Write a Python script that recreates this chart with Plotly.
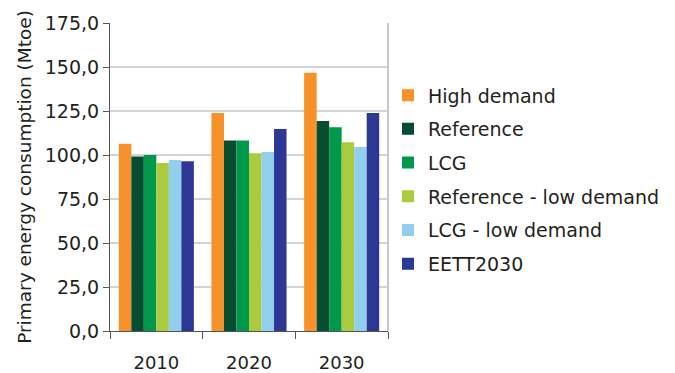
import plotly.graph_objects as go

years = ["2010", "2020", "2030"]
series_names = ["High demand", "Reference", "LCG", "Reference - low demand", "LCG - low demand", "EETT2030"]
high_demand = [106.4, 123.9, 146.8]
reference = [99.2, 108.3, 119.3]
lcg = [100.0, 108.3, 115.7]
reference_low = [95.5, 101.0, 107.2]
lcg_low = [97.2, 101.7, 104.5]
eett2030 = [96.4, 114.8, 123.9]
y_ticks = [0, 25, 50, 75, 100, 125, 150, 175]

colors = ["#F7922A", "#064D32", "#00984A", "#ABCB3E", "#92CFEC", "#2D3795"]
values = [high_demand, reference, lcg, reference_low, lcg_low, eett2030]

FONT = "DejaVu Sans"
TXT = "#231F20"

fig = go.Figure()
for i, (name, vals, col) in enumerate(zip(series_names, values, colors)):
    fig.add_trace(go.Bar(
        x=years, y=vals, name=name, marker=dict(color=col, line=dict(width=0)),
        legendgroup=f"g{i}",
    ))

fig.update_layout(
    width=675, height=373,
    margin=dict(l=110, r=287, t=23, b=42, autoexpand=False),
    paper_bgcolor="white", plot_bgcolor="white",
    barmode="group", bargap=0.19, bargroupgap=0,
    separators=", ",
    font=dict(family=FONT, size=19, color=TXT),
    legend=dict(
        x=1.0, y=0.827, xanchor="left", yanchor="top",
        font=dict(family=FONT, size=19, color=TXT),
        tracegroupgap=6, itemwidth=30,
        bgcolor="rgba(0,0,0,0)",
    ),
    xaxis=dict(
        type="category", tickson="boundaries", ticks="outside", ticklen=7,
        tickcolor="#555555", showline=True, linecolor="#555555", linewidth=1,
        showgrid=False, tickfont=dict(size=18), ticklabelstandoff=15,
        automargin=False,
    ),
    yaxis=dict(
        range=[0, 175], tickvals=y_ticks, tickformat=".1f",
        ticks="outside", ticklen=6, tickcolor="#555555",
        showline=True, linecolor="#555555", linewidth=1,
        showgrid=True, gridcolor="#D4D4D4", gridwidth=2,
        tickfont=dict(size=19), automargin=False,
        title=dict(text="Primary energy consumption (Mtoe)", font=dict(size=18.5), standoff=8),
        zeroline=False,
    ),
)

# light frame line on the right edge of the plot area
fig.add_shape(type="line", xref="paper", yref="paper", x0=1, x1=1, y0=0, y1=1,
              line=dict(color="#C8C8C8", width=2))

fig.write_html("out.html")
